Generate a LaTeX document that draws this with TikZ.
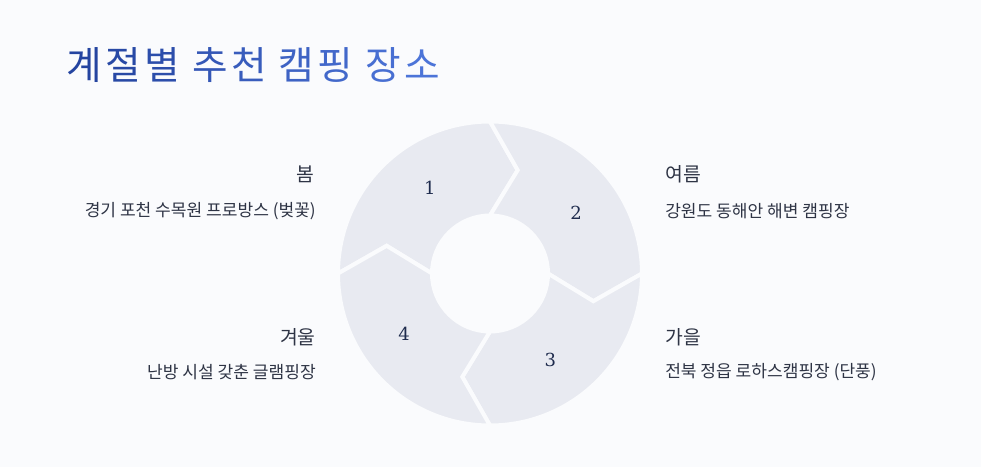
\documentclass[tikz,border=0pt]{standalone}
\usepackage{fontspec}
\usepackage{tikz}
\setmainfont{Noto Sans CJK KR}
\newfontfamily\numfont{DejaVu Serif}
\definecolor{pagebg}{HTML}{FAFBFD}
\definecolor{ringfill}{HTML}{E8EAF1}
\definecolor{titlestart}{HTML}{2444A0}
\definecolor{titleend}{HTML}{4C74D8}
\definecolor{headtext}{HTML}{2E3445}
\definecolor{numtext}{HTML}{1E2B4D}
\tikzset{
	segment/.style={fill=ringfill, draw=pagebg, line width=3pt, line join=miter},
	segnum/.style={font=\numfont\fontsize{13.5}{15}\selectfont, text=numtext},
	season/.style={font=\fontsize{14.5}{17}\selectfont, text=headtext, inner sep=0pt},
	place/.style={font=\fontsize{12.8}{15}\selectfont, text=headtext, inner sep=0pt}
}
\newcommand{\TitleChar}[2]{\textcolor{titleend!#1!titlestart}{#2}\kern2.6pt\relax}

\begin{document}
\begin{tikzpicture}[x=0.75pt, y=0.75pt]
		% Canvas
		\fill[pagebg] (-490,-193.5) rectangle (491,273.5);
		\useasboundingbox (-490,-193.5) rectangle (491,273.5);
		
		% Title
		\node[anchor=west, inner sep=0pt, font=\fontsize{29}{34}\selectfont] (title) at (-424,208.5)
			{\TitleChar{0}{계}\TitleChar{10}{절}\TitleChar{20}{별} \TitleChar{40}{추}\TitleChar{50}{천} \TitleChar{65}{캠}\TitleChar{75}{핑} \TitleChar{90}{장}\textcolor{titleend}{소}};
		
		% Define the ring segments
		\foreach \a/\n in {180/1, 90/2, 0/3, -90/4}{
			\draw[segment] (\a:152) arc[start angle=\a, end angle=\a-90, radius=152]
				-- (\a-105:107) -- (\a-90:58)
				arc[start angle=\a-90, end angle=\a, radius=58]
				-- (\a-15:107) -- cycle;
			\node[segnum] (num\n) at (\a-55:105) {\n};
		}
		
		% Season labels
		\node[season, anchor=east] (spring) at (-175,99.5) {봄};
		\node[place, anchor=east] (springplace) at (-174,62.5) {경기 포천 수목원 프로방스 (벚꽃)};
		\node[season, anchor=west] (summer) at (175,99.5) {여름};
		\node[place, anchor=west] (summerplace) at (175,62.5) {강원도 동해안 해변 캠핑장};
		\node[season, anchor=west] (autumn) at (175,-63.5) {가을};
		\node[place, anchor=west] (autumnplace) at (175,-98.5) {전북 정읍 로하스캠핑장 (단풍)};
		\node[season, anchor=east] (winter) at (-174,-63.5) {겨울};
		\node[place, anchor=east] (winterplace) at (-174,-98.5) {난방 시설 갖춘 글램핑장};
	\end{tikzpicture}
\end{document}
